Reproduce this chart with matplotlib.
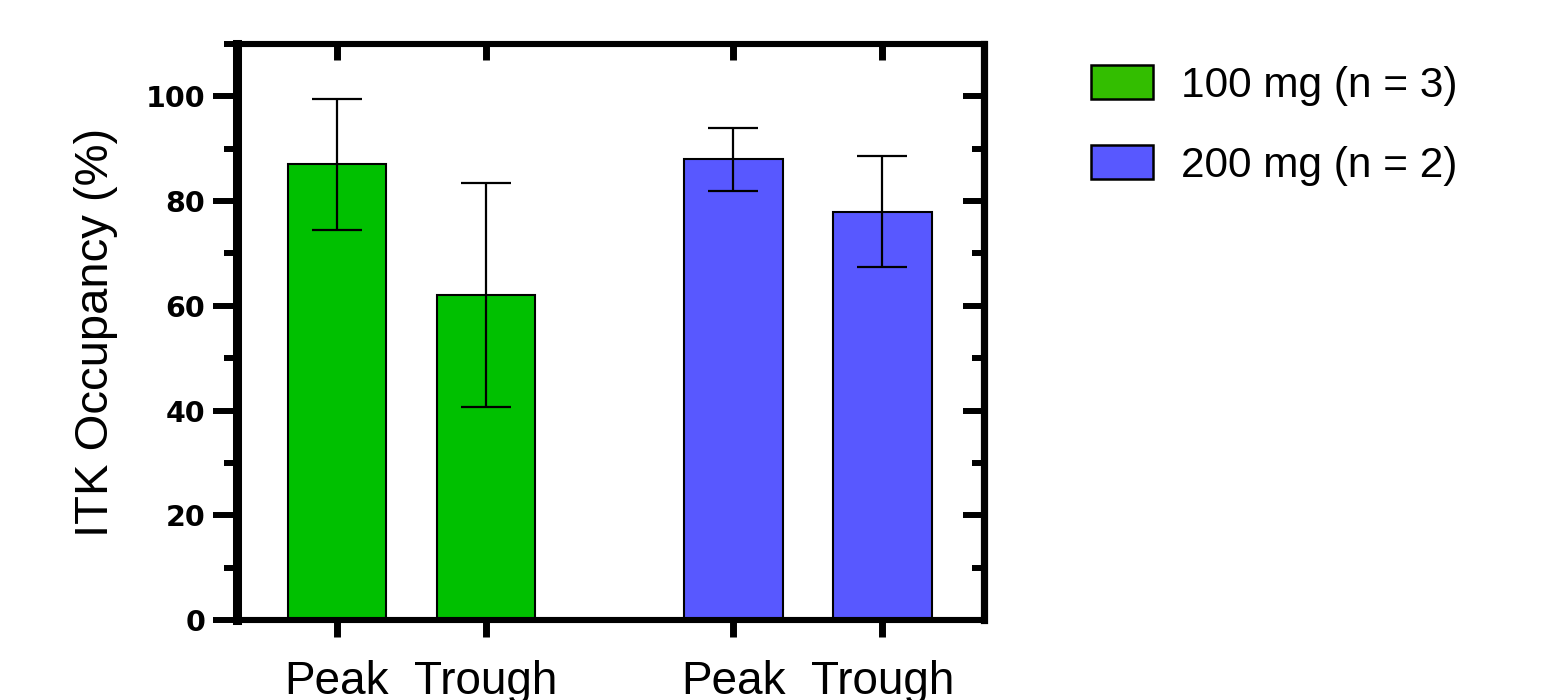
import matplotlib.pyplot as plt
from matplotlib.patches import Patch

# values
timepoints = ['Peak', 'Trough']
mean_100 = [87, 62]
err_100 = [12.5, 21.4]
mean_200 = [88, 78]
err_200 = [6.0, 10.6]
legend_labels = ['100 mg (n = 3)', '200 mg (n = 2)']

green = '#00C000'
blue = '#5858FF'
green_leg = '#33BE00'

x100 = [0, 1]
x200 = [2.66, 3.66]

fig = plt.figure(figsize=(15.48, 7), dpi=100)
ax = fig.add_axes([237 / 1548, 80 / 700, 747 / 1548, 576 / 700])

ax.bar(x100, mean_100, width=0.66, color=green, edgecolor='black', linewidth=1.5, zorder=2)
ax.bar(x200, mean_200, width=0.66, color=blue, edgecolor='black', linewidth=1.5, zorder=2)
ax.errorbar(x100, mean_100, yerr=err_100, fmt='none', ecolor='black',
            elinewidth=1.6, capsize=18, capthick=1.6, zorder=3)
ax.errorbar(x200, mean_200, yerr=err_200, fmt='none', ecolor='black',
            elinewidth=1.6, capsize=18, capthick=1.6, zorder=3)

ax.set_xlim(-0.671, 4.342)
ax.set_ylim(0, 110)

xpos = x100 + x200
ax.set_xticks(xpos)
ax.set_xticklabels(timepoints * 2, fontsize=33, family='Liberation Sans')
ax.set_yticks(range(0, 101, 20))
ax.set_yticks(range(10, 111, 20), minor=True)
for lab in ax.get_yticklabels():
    lab.set_fontweight('bold')
    lab.set_fontsize(20.5)

ax.tick_params(axis='y', which='major', direction='out', length=17, width=4.3, pad=6, right=False)
ax.tick_params(axis='y', which='minor', direction='out', length=9.5, width=4.3, right=False)
ax.tick_params(axis='x', direction='out', length=12, width=5, pad=17, top=False)

# inward ticks on right and top
axr = ax.twinx()
axr.set_ylim(ax.get_ylim())
axr.set_yticks(range(0, 101, 20))
axr.set_yticks(range(10, 111, 20), minor=True)
axr.tick_params(axis='y', which='major', direction='in', length=15, width=4.3, labelright=False)
axr.tick_params(axis='y', which='minor', direction='in', length=8.5, width=4.3)
axt = ax.twiny()
axt.set_xlim(ax.get_xlim())
axt.set_xticks(xpos)
axt.tick_params(axis='x', direction='in', length=11.5, width=5, labeltop=False)
for a in (axr, axt):
    for s in a.spines.values():
        s.set_visible(False)

for side, s in ax.spines.items():
    s.set_linewidth({'left': 6.5, 'right': 5.2}.get(side, 4.4))
    s.set_capstyle('projecting')

ax.set_ylabel('ITK Occupancy (%)', fontsize=34, family='Liberation Sans', labelpad=20)

handles = [Patch(facecolor=green_leg, edgecolor='black', linewidth=1.8),
           Patch(facecolor=blue, edgecolor='black', linewidth=1.8)]
fig.legend(handles, legend_labels, loc='upper left', bbox_to_anchor=(1091 / 1548, 1 - 65 / 700),
           frameon=False, borderpad=0, borderaxespad=0,
           prop={'family': 'Liberation Sans', 'size': 30.5},
           handlelength=1.46, handleheight=0.85, handletextpad=0.66, labelspacing=0.93)

fig.savefig('out.png', dpi=100)
